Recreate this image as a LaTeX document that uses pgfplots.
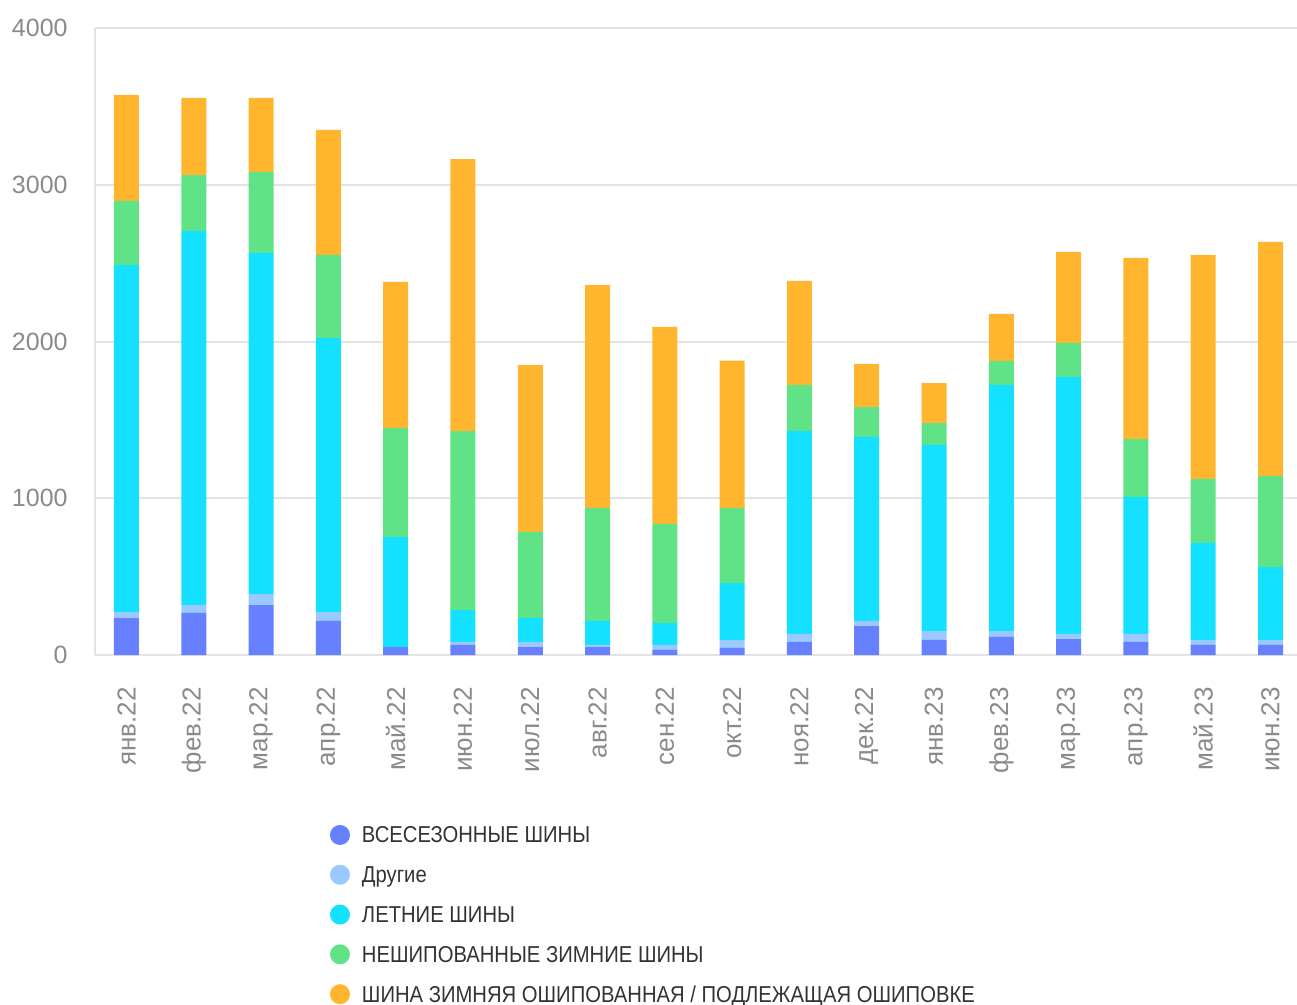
\documentclass[border=0pt]{standalone}
\usepackage{pgfplots}
\pgfplotsset{compat=1.18}
\usepackage{pgfplotstable}
\usepackage{fontspec}
\setmainfont{Liberation Sans}
\newfontfamily\legfont[FakeStretch=0.88]{Liberation Sans}

\definecolor{cAll}{HTML}{6680FF}
\definecolor{cOther}{HTML}{99C9FF}
\definecolor{cSummer}{HTML}{14E1FF}
\definecolor{cGreen}{HTML}{60E387}
\definecolor{cOrange}{HTML}{FFB62E}
\definecolor{cGrid}{HTML}{E3E3E3}
\definecolor{cTick}{HTML}{8A8A8A}
\definecolor{cLeg}{HTML}{333333}

% x  all-season  other  summer  non-studded  studded
\pgfplotstableread{
x  allseason other summer green orange
0  236  38  2214  409   676
1  268  51  2386  357   492
2  319  70  2176  517   472
3  217  57  1748  530   798
4  51   0   702   695   932
5  64   19  204   1142  1735
6  51   32  153   549   1065
7  51   13  153   721   1423
8  32   32  140   632   1257
9  45   51  363   479   940
10 83   51  1295  294   663
11 185  32  1174  191   275
12 96   57  1187  140   255
13 115  38  1570  153   300
14 102  32  1640  217   580
15 83   51  874   370   1155
16 64   32  619   408   1429
17 64   32  465   581   1493
}\tyres

\begin{document}
\begin{tikzpicture}
\pgfplotsset{leg/.style={legend image code/.code={\fill[##1] (0bp,1bp) circle (5bp);}}}
\begin{axis}[
    at={(0,0)}, anchor=south west,
    scale only axis,
    width=601bp, height=313.5bp,
    ybar stacked,
    bar width=12.5bp,
    xmin=-0.468, xmax=17.394,
    ymin=0, ymax=4000,
    ytick={0,1000,2000,3000,4000},
    xtick=data,
    xticklabels={янв.22,фев.22,мар.22,апр.22,май.22,июн.22,июл.22,авг.22,сен.22,окт.22,ноя.22,дек.22,янв.23,фев.23,мар.23,апр.23,май.23,июн.23},
    /pgf/number format/1000 sep={},
    /pgf/number format/assume math mode=true,
    axis x line*=bottom, axis y line*=left,
    axis line style={-, draw=cGrid, line width=1.2bp},
    ymajorgrids, grid style={draw=cGrid, line width=1bp},
    major tick length=0pt,
    tick style={draw=none},
    ticklabel style={font=\fontsize{12.5bp}{15bp}\selectfont, text=cTick, inner sep=0pt},
    yticklabel shift=13.5bp,
    xticklabel shift=16bp,
    xticklabel style={rotate=90, anchor=east, font=\fontsize{13bp}{15bp}\selectfont},
    legend style={
        at={(axis description cs:0.1955,-0.2711)}, anchor=north west,
        draw=none, fill=none, inner sep=0pt, outer sep=0pt,
        font=\legfont\fontsize{11.5bp}{14bp}\selectfont, text=cLeg,
        nodes={inner sep=0pt, text height=8.5bp, text depth=2.5bp},
        row sep=8.4bp,
        /tikz/every odd column/.style={column sep=6bp},
    },
    legend cell align=left,
]
\addplot[fill=cAll, draw=none, leg] table[x=x, y=allseason] {\tyres};
\addplot[fill=cOther, draw=none, leg] table[x=x, y=other] {\tyres};
\addplot[fill=cSummer, draw=none, leg] table[x=x, y=summer] {\tyres};
\addplot[fill=cGreen, draw=none, leg] table[x=x, y=green] {\tyres};
\addplot[fill=cOrange, draw=none, leg] table[x=x, y=orange] {\tyres};
\legend{ВСЕСЕЗОННЫЕ ШИНЫ, Другие, ЛЕТНИЕ ШИНЫ, НЕШИПОВАННЫЕ ЗИМНИЕ ШИНЫ, ШИНА ЗИМНЯЯ ОШИПОВАННАЯ / ПОДЛЕЖАЩАЯ ОШИПОВКЕ}
\end{axis}
\pgfresetboundingbox
\path (-47.5bp,-175bp) rectangle (601bp,327.5bp);
\end{tikzpicture}
\end{document}
